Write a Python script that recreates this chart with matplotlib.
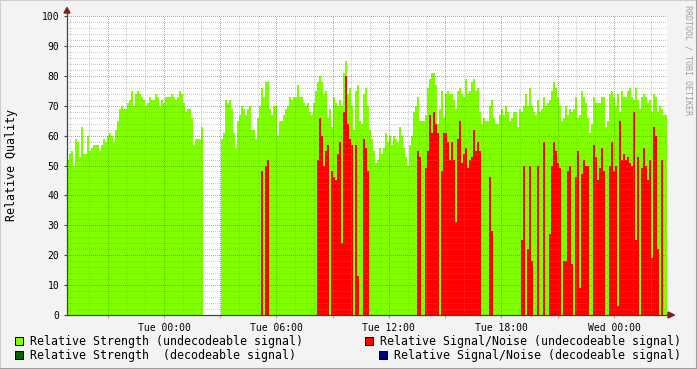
import numpy as np
import matplotlib
matplotlib.use("Agg")
import matplotlib.pyplot as plt
from matplotlib.patches import Rectangle, Polygon
from matplotlib.lines import Line2D

W, H = 697, 369

# time axis: hours relative to Tue 00:00
start_hour = -5.17
span_hours = 32.0

# Relative Strength (undecodeable signal), one value per ~6.4 min step
strength_undec = [
    52, 54, 55, 50, 59, 58, 53, 63, 54, 54,
    60, 55, 56, 57, 57, 57, 55, 57, 59, 58,
    60, 61, 60, 58, 62, 65, 69, 70, 69, 69,
    71, 72, 75, 70, 74, 75, 74, 73, 72, 70,
    71, 73, 72, 72, 74, 73, 70, 72, 71, 73,
    73, 73, 74, 73, 72, 73, 75, 74, 71, 68,
    69, 69, 66, 57, 59, 59, 59, 63, np.nan, np.nan,
    np.nan, np.nan, np.nan, np.nan, np.nan, np.nan, np.nan, 59, 61, 72,
    71, 72, 69, 61, 56, 65, 67, 70, 69, 67,
    69, 70, 62, 62, 59, 66, 70, 76, 73, 78,
    78, 69, 67, 70, 70, 60, 65, 65, 67, 69,
    70, 73, 72, 73, 73, 77, 73, 73, 71, 70,
    71, 68, 67, 71, 75, 78, 80, 78, 74, 75,
    66, 69, 63, 73, 71, 70, 72, 70, 81, 85,
    74, 76, 70, 62, 75, 77, 65, 64, 74, 76,
    70, 62, 59, 55, 51, 52, 56, 54, 56, 61,
    58, 60, 57, 60, 59, 58, 63, 60, 56, 53,
    50, 57, 60, 68, 70, 73, 65, 65, 65, 67,
    76, 79, 81, 81, 77, 64, 69, 75, 66, 74,
    75, 74, 74, 72, 69, 75, 76, 74, 73, 79,
    74, 75, 78, 79, 75, 76, 68, 64, 66, 65,
    65, 70, 72, 66, 64, 64, 67, 69, 67, 70,
    68, 65, 66, 68, 68, 63, 69, 68, 70, 74,
    70, 76, 70, 68, 67, 72, 68, 69, 73, 70,
    71, 72, 75, 78, 76, 73, 70, 65, 66, 70,
    67, 69, 68, 69, 73, 66, 67, 75, 73, 71,
    66, 61, 64, 73, 71, 71, 71, 73, 73, 63,
    65, 74, 75, 73, 70, 74, 68, 75, 73, 73,
    75, 76, 73, 72, 76, 72, 69, 73, 74, 73,
    71, 72, 68, 74, 73, 68, 70, 69, 67, 67,
]

# Relative Signal/Noise (undecodeable signal)
snr_undec = [
    0, 0, 0, 0, 0, 0, 0, 0, 0, 0,
    0, 0, 0, 0, 0, 0, 0, 0, 0, 0,
    0, 0, 0, 0, 0, 0, 0, 0, 0, 0,
    0, 0, 0, 0, 0, 0, 0, 0, 0, 0,
    0, 0, 0, 0, 0, 0, 0, 0, 0, 0,
    0, 0, 0, 0, 0, 0, 0, 0, 0, 0,
    0, 0, 0, 0, 0, 0, 0, 0, 0, 0,
    0, 0, 0, 0, 0, 0, 0, 0, 0, 0,
    0, 0, 0, 0, 0, 0, 0, 0, 0, 0,
    0, 0, 0, 0, 0, 0, 0, 48, 0, 50,
    52, 0, 0, 0, 0, 0, 0, 0, 0, 0,
    0, 0, 0, 0, 0, 0, 0, 0, 0, 0,
    0, 0, 0, 0, 0, 52, 66, 60, 50, 55,
    57, 0, 48, 46, 45, 54, 58, 24, 68, 80,
    64, 59, 57, 0, 57, 13, 0, 0, 59, 56,
    48, 0, 0, 0, 0, 0, 0, 0, 0, 0,
    0, 0, 0, 0, 0, 0, 0, 0, 0, 0,
    0, 0, 0, 0, 0, 55, 53, 0, 0, 49,
    55, 67, 61, 68, 64, 61, 0, 48, 61, 61,
    58, 52, 58, 52, 31, 59, 65, 51, 54, 56,
    49, 52, 53, 62, 55, 58, 55, 0, 0, 0,
    0, 46, 28, 0, 0, 0, 0, 0, 0, 0,
    0, 0, 0, 0, 0, 0, 0, 25, 50, 0,
    22, 50, 18, 0, 0, 50, 0, 0, 58, 0,
    0, 27, 50, 58, 55, 51, 49, 0, 18, 18,
    48, 50, 17, 0, 46, 55, 9, 47, 52, 50,
    50, 0, 0, 57, 53, 45, 49, 56, 48, 0,
    0, 50, 58, 48, 50, 3, 65, 52, 54, 52,
    53, 51, 50, 68, 25, 53, 0, 49, 56, 50,
    45, 52, 19, 63, 60, 22, 0, 52, 0, 0,
]

tick_hours = [0, 6, 12, 18, 24]
tick_labels = ["Tue 00:00", "Tue 06:00", "Tue 12:00", "Tue 18:00", "Wed 00:00"]
y_ticks = list(range(0, 101, 10))

legend_labels = [
    "Relative Strength (undecodeable signal)",
    "Relative Strength  (decodeable signal)",
    "Relative Signal/Noise (undecodeable signal)",
    "Relative Signal/Noise (decodeable signal)",
]
legend_colors = ["#7fff00", "#006400", "#ff0000", "#000080"]

BACK = "#f3f3f3"
AXIS_C = "#2c4d43"
ARROW_C = "#7f1f1f"
MONO = "DejaVu Sans Mono"

fig = plt.figure(figsize=(W / 100, H / 100), dpi=100, facecolor=BACK)
ax = fig.add_axes([67 / W, 1 - 315 / H, 600 / W, 299 / H])
ax.set_facecolor("white")

n = len(strength_undec)
edges = np.linspace(start_hour, start_hour + span_hours, n + 1)
step = edges[1] - edges[0]

ax.bar(edges[:-1], strength_undec, width=step, align="edge",
       color="#7fff00", linewidth=0, antialiased=False, zorder=1)
ax.bar(edges[:-1], snr_undec, width=step, align="edge",
       color="#ff0000", linewidth=0, antialiased=False, zorder=1.1)

ax.set_xlim(start_hour, start_hour + span_hours)
ax.set_ylim(0, 100)

# x: ticks every 3h, labels every 6h; minor grid every hour
major_x = np.arange(-3, 27, 3)
ax.set_xticks(major_x)
ax.set_xticklabels([tick_labels[tick_hours.index(h)] if h in tick_hours else ""
                    for h in major_x])
ax.set_xticks(np.arange(-5, 27, 1), minor=True)
ax.set_yticks(y_ticks)
ax.set_yticklabels([str(v) for v in y_ticks])
ax.set_yticks(np.arange(0, 101, 2), minor=True)

for lab in ax.get_xticklabels() + ax.get_yticklabels():
    lab.set_fontfamily(MONO)
ax.tick_params(axis="x", which="major", length=2, color="#e89090",
               labelsize=7, pad=3.5)
ax.tick_params(axis="x", which="minor", length=0)
ax.tick_params(axis="y", which="major", length=2, color=AXIS_C,
               labelsize=7, pad=3.5)
ax.tick_params(axis="y", which="minor", length=0)

ax.set_axisbelow(False)
ax.grid(which="minor", color="#8f8f8f", alpha=0.45, linestyle=(0, (1, 2)),
        linewidth=0.72, antialiased=False)
ax.grid(which="major", color="#de3030", alpha=0.55, linestyle=(0, (1, 2)),
        linewidth=0.72, antialiased=False)

for s in ax.spines.values():
    s.set_visible(False)

# axis lines with rrdtool style arrows
dx, dy = 1 / 600, 1 / 299
ax.add_line(Line2D([0, 0], [0, 1 + 4 * dy], transform=ax.transAxes,
                   color=AXIS_C, lw=0.9, clip_on=False, zorder=5))
ax.add_line(Line2D([0, 1 + 4 * dx], [0, 0], transform=ax.transAxes,
                   color=AXIS_C, lw=0.9, clip_on=False, zorder=5))
ax.add_patch(Polygon([(-3 * dx, 1 + 3 * dy), (3 * dx, 1 + 3 * dy), (0, 1 + 8.5 * dy)],
                     closed=True, transform=ax.transAxes, color=ARROW_C,
                     clip_on=False, zorder=6))
ax.add_patch(Polygon([(1 + 1 * dx, 3 * dy), (1 + 1 * dx, -3 * dy), (1 + 7.5 * dx, 0)],
                     closed=True, transform=ax.transAxes, color=ARROW_C,
                     clip_on=False, zorder=6))

# y label and watermark
fig.text(12 / W, 1 - 165 / H, "Relative Quality", rotation=90, ha="center",
         va="center", fontsize=8.4, family=MONO)
fig.text(688 / W, 1 - 60 / H, "RRDTOOL / TOBI OETIKER", rotation=270,
         ha="center", va="center", fontsize=6, family=MONO, color="#a0a0a0")

# legend
legend_pos = [(15, 30, 341), (15, 30, 355), (365, 380, 341), (379, 394, 355)]
for (bx, tx, cy), lab, col in zip(legend_pos, legend_labels, legend_colors):
    fig.add_artist(Rectangle((bx / W, 1 - (cy + 4) / H), 8 / W, 8 / H,
                             transform=fig.transFigure, facecolor=col,
                             edgecolor="black", linewidth=0.72))
    fig.text(tx / W, 1 - cy / H, lab, ha="left", va="center",
             fontsize=8.37, family=MONO)

# shaded frame
fig.add_artist(Line2D([0, 0, 1], [0, 1, 1], transform=fig.transFigure,
                      color="#cfcfcf", lw=1.5))
fig.add_artist(Line2D([0, 1, 1], [0, 0, 1], transform=fig.transFigure,
                      color="#9e9e9e", lw=1.5))

fig.savefig("out.png", dpi=100, facecolor=BACK)
